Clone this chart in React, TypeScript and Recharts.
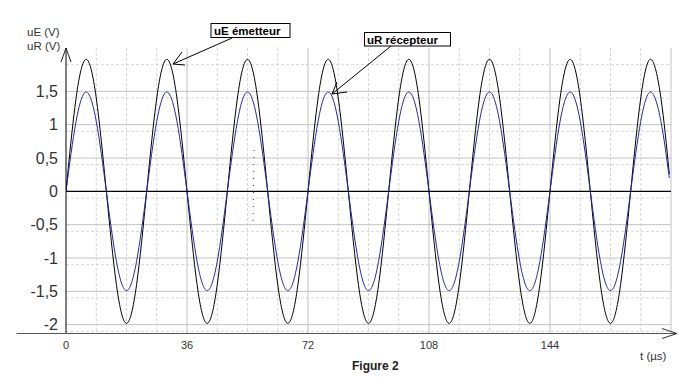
import { LineChart, Line, XAxis, YAxis, CartesianGrid, ReferenceLine } from "recharts";

// time samples (µs)
const times = [
  0, 3, 6, 9, 12, 15, 18, 21, 24, 27, 30, 33, 36, 39, 42, 45, 48, 51, 54, 57,
  60, 63, 66, 69, 72, 75, 78, 81, 84, 87, 90, 93, 96, 99, 102, 105, 108, 111, 114, 117,
  120, 123, 126, 129, 132, 135, 138, 141, 144, 147, 150, 153, 156, 159, 162, 165, 168, 171, 174, 177,
  179.5
];

// uE emitter voltage (V)
const uE = [
  0, 1.4, 1.98, 1.4, 0, -1.4, -1.98, -1.4,
  0, 1.4, 1.98, 1.4, 0, -1.4, -1.98, -1.4,
  0, 1.4, 1.98, 1.4, 0, -1.4, -1.98, -1.4,
  0, 1.4, 1.98, 1.4, 0, -1.4, -1.98, -1.4,
  0, 1.4, 1.98, 1.4, 0, -1.4, -1.98, -1.4,
  0, 1.4, 1.98, 1.4, 0, -1.4, -1.98, -1.4,
  0, 1.4, 1.98, 1.4, 0, -1.4, -1.98, -1.4,
  0, 1.4, 1.98, 1.4, 0.26
];

// uR receiver voltage (V)
const uR = [
  0, 1.05, 1.49, 1.05, 0, -1.05, -1.49, -1.05,
  0, 1.05, 1.49, 1.05, 0, -1.05, -1.49, -1.05,
  0, 1.05, 1.49, 1.05, 0, -1.05, -1.49, -1.05,
  0, 1.05, 1.49, 1.05, 0, -1.05, -1.49, -1.05,
  0, 1.05, 1.49, 1.05, 0, -1.05, -1.49, -1.05,
  0, 1.05, 1.49, 1.05, 0, -1.05, -1.49, -1.05,
  0, 1.05, 1.49, 1.05, 0, -1.05, -1.49, -1.05,
  0, 1.05, 1.49, 1.05, 0.2
];

const xTicks = [0, 36, 72, 108, 144];
const yTicks = [-2, -1.5, -1, -0.5, 0, 0.5, 1, 1.5];

const xMajor = [36, 72, 108, 144, 180];
const xMinor = [9, 18, 27, 45, 54, 63, 81, 90, 99, 117, 126, 135, 153, 162, 171];
const yMajor = [-2, -1.5, -1, -0.5, 0.5, 1, 1.5];
const yMinor = [
  -2.1, -1.9, -1.8, -1.7, -1.6, -1.4, -1.3, -1.2, -1.1, -0.9, -0.8, -0.7, -0.6,
  -0.4, -0.3, -0.2, -0.1, 0.1, 0.2, 0.3, 0.4, 0.6, 0.7, 0.8, 0.9, 1.1, 1.2, 1.3, 1.4,
  1.6, 1.7, 1.8, 1.9
];

const data = times.map((t, i) => ({ t, uE: uE[i], uR: uR[i] }));

const font = "'Liberation Sans', Arial, sans-serif";
const commaFmt = (v: number) => String(v).replace(".", ",");

export default function App() {
  return (
    <div style={{ position: "absolute", left: 0, top: 0, width: 679, height: 380, background: "#fff", fontFamily: font }}>
      <LineChart width={679} height={380} data={data} margin={{ top: 48, right: 8, bottom: 0, left: 0 }}>
        <CartesianGrid
          stroke="#d6d6d6"
          strokeDasharray="3 2"
          horizontalValues={yMinor}
          verticalValues={xMinor}
        />
        <CartesianGrid stroke="#c2c2c2" horizontalValues={yMajor} verticalValues={xMajor} />
        <XAxis
          type="number"
          dataKey="t"
          domain={[0, 180]}
          ticks={xTicks}
          allowDataOverflow
          height={47}
          axisLine={false}
          tickLine={false}
          tick={{ fontSize: 11, fill: "#333", fontFamily: font }}
        />
        <YAxis
          type="number"
          domain={[-2.125, 2.15]}
          ticks={yTicks}
          allowDataOverflow
          width={66}
          axisLine={{ stroke: "#000" }}
          tickLine={false}
          tickFormatter={commaFmt}
          tick={{ fontSize: 16, fill: "#333", fontFamily: font }}
        />
        <ReferenceLine y={0} stroke="#000" strokeWidth={1.2} />
        <Line
          type="natural"
          dataKey="uE"
          stroke="#000"
          strokeWidth={1}
          dot={false}
          isAnimationActive={false}
        />
        <Line
          type="natural"
          dataKey="uR"
          stroke="#2626a6"
          strokeWidth={1}
          dot={false}
          isAnimationActive={false}
        />
      </LineChart>
      <svg
        width={679}
        height={380}
        style={{ position: "absolute", left: 0, top: 0, pointerEvents: "none" }}
        fontFamily={font}
      >
        {/* axes arrows */}
        <line x1={16.5} y1={333.5} x2={677} y2={333.5} stroke="#555" />
        <polyline points="662,328.5 677,333.5 662,338.5" fill="none" stroke="#333" />
        <polyline points="61,62 66,48 71,62" fill="none" stroke="#222" />
        <text x={27} y={36} fontSize={11.5} fill="#333">uE (V)</text>
        <text x={27} y={50} fontSize={11.5} fill="#333">uR (V)</text>
        <text x={640} y={360} fontSize={11.5} fill="#333">t (µs)</text>
        <text x={352} y={370} fontSize={12} fontWeight="bold" fill="#222">Figure 2</text>

        {/* annotation: emitter */}
        <rect x={211} y={23.5} width={79} height={14} fill="#fff" stroke="#000" />
        <text x={214} y={35} fontSize={11.5} fontWeight="bold" fill="#000">uE émetteur</text>
        <line x1={232} y1={38} x2={173} y2={64} stroke="#000" />
        <line x1={173} y1={64} x2={182} y2={52} stroke="#000" />
        <line x1={173} y1={64} x2={185} y2={65} stroke="#000" />

        {/* annotation: receiver */}
        <rect x={364.5} y={32.5} width={86} height={13.5} fill="#fff" stroke="#000" />
        <text x={367} y={44} fontSize={11.5} fontWeight="bold" fill="#000">uR récepteur</text>
        <line x1={391} y1={46} x2={332} y2={94} stroke="#000" />
        <line x1={332} y1={94} x2={337} y2={82} stroke="#000" />
        <line x1={332} y1={94} x2={347} y2={92} stroke="#000" />

        {/* scan artefact */}
        <line x1={254} y1={150} x2={253} y2={227} stroke="#333" strokeDasharray="1 6" />
      </svg>
    </div>
  );
}
